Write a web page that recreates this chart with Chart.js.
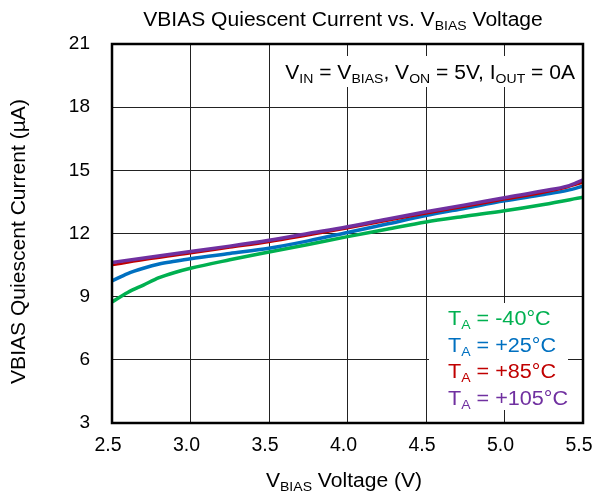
<!DOCTYPE html>
<html><head><meta charset="utf-8">
<script src="https://cdn.jsdelivr.net/npm/chart.js@4/dist/chart.umd.min.js"></script>
<style>html,body{margin:0;padding:0;background:#fff}#wrap{width:598px;height:497px}</style>
</head><body><div id="wrap"><canvas id="c" width="598" height="497"></canvas></div>
<script>
const xTicks = [2.5, 3.0, 3.5, 4.0, 4.5, 5.0, 5.5];
const yTicks = [3, 6, 9, 12, 15, 18, 21];
const seriesNames = ["-40°C", "+25°C", "+85°C", "+105°C"];

const vM40 = [2.5, 2.6, 2.7, 2.8, 2.9, 3.0, 3.25, 3.5, 3.75, 4.0, 4.25, 4.5, 4.75, 5.0, 5.25, 5.5];
const iM40 = [8.75, 9.2, 9.55, 9.9, 10.15, 10.35, 10.75, 11.12, 11.48, 11.85, 12.2, 12.55, 12.82, 13.08, 13.38, 13.72];

const v25 = [2.5, 2.6, 2.7, 2.8, 2.9, 3.0, 3.25, 3.5, 3.75, 4.0, 4.25, 4.5, 4.75, 5.0, 5.25, 5.4, 5.5];
const i25 = [9.75, 10.1, 10.35, 10.55, 10.68, 10.8, 11.05, 11.3, 11.65, 12.05, 12.45, 12.85, 13.2, 13.55, 13.85, 14.05, 14.25];

const v85 = [2.5, 2.75, 3.0, 3.25, 3.5, 3.75, 4.0, 4.25, 4.5, 4.75, 5.0, 5.25, 5.4, 5.5];
const i85 = [10.5, 10.8, 11.06, 11.33, 11.6, 11.92, 12.25, 12.6, 12.95, 13.28, 13.62, 13.95, 14.2, 14.42];

const v105 = [2.5, 2.75, 3.0, 3.25, 3.5, 3.75, 4.0, 4.25, 4.5, 4.75, 5.0, 5.25, 5.4, 5.5];
const i105 = [10.62, 10.88, 11.14, 11.4, 11.68, 12.0, 12.32, 12.68, 13.03, 13.36, 13.7, 14.03, 14.25, 14.55];

const colors = ["#00B050", "#0070C0", "#C00000", "#7030A0"];
const widths = [3.5, 3.5, 2.5, 3.5];

function pts(xs, ys) { return xs.map((x, i) => ({x: x, y: ys[i]})); }
const allX = [vM40, v25, v85, v105];
const allY = [iM40, i25, i85, i105];

const FONT = '"Liberation Sans", Arial, sans-serif';
const SX = 1.08;

function rich(ctx, x, y, segs, size, color, align) {
  const subSize = Math.round(size * 0.66);
  let w = 0;
  segs.forEach(s => { ctx.font = (s.sub ? subSize : size) + 'px ' + FONT; w += ctx.measureText(s.t).width; });
  w *= SX;
  let sx0 = align === 'center' ? x - w / 2 : (align === 'right' ? x - w : x);
  ctx.save();
  ctx.translate(sx0, y);
  ctx.scale(SX, 1);
  ctx.textBaseline = 'alphabetic';
  ctx.textAlign = 'left';
  ctx.fillStyle = color;
  let cx = 0;
  segs.forEach(s => {
    ctx.font = (s.sub ? subSize : size) + 'px ' + FONT;
    ctx.fillText(s.t, cx, s.sub ? size * 0.2 : 0);
    cx += ctx.measureText(s.t).width;
  });
  ctx.restore();
}

const textPlugin = {
  id: 'texts',
  afterDraw(chart) {
    const ctx = chart.ctx;
    ctx.save();
    rich(ctx, 343, 26, [{t: 'VBIAS Quiescent Current vs. V'}, {t: 'BIAS', sub: true}, {t: ' Voltage'}], 19.5, '#000', 'center');
    rich(ctx, 344, 487, [{t: 'V'}, {t: 'BIAS', sub: true}, {t: ' Voltage (V)'}], 19.5, '#000', 'center');
    ctx.save();
    ctx.translate(25, 241.5);
    ctx.rotate(-Math.PI / 2);
    rich(ctx, 0, 0, [{t: 'VBIAS Quiescent Current (µA)'}], 19.5, '#000', 'center');
    ctx.restore();
    rich(ctx, 575, 79, [{t: 'V'}, {t: 'IN', sub: true}, {t: ' = V'}, {t: 'BIAS', sub: true}, {t: ', V'}, {t: 'ON', sub: true}, {t: ' = 5V, I'}, {t: 'OUT', sub: true}, {t: ' = 0A'}], 19.5, '#000', 'right');
    seriesNames.forEach((n, i) => {
      rich(ctx, 448, 325 + i * 26.5, [{t: 'T'}, {t: 'A', sub: true}, {t: ' = ' + n}], 20, colors[i], 'left');
    });
    ctx.restore();
  },
  beforeDatasetsDraw(chart) {
    const ctx = chart.ctx;
    ctx.save();
    ctx.fillStyle = '#fff';
    ctx.fillRect(429, 303, 139, 107);
    ctx.fillRect(280, 56, 295, 31);
    ctx.restore();
  }
};

const borderPlugin = {
  id: 'frame',
  afterDatasetsDraw(chart) {
    const a = chart.chartArea, ctx = chart.ctx;
    ctx.save();
    ctx.strokeStyle = '#000';
    ctx.lineWidth = 2.5;
    ctx.strokeRect(a.left, a.top, a.right - a.left, a.bottom - a.top);
    ctx.restore();
  }
};

new Chart(document.getElementById('c'), {
  type: 'line',
  data: {
    datasets: allX.map((xs, i) => ({
      label: seriesNames[i],
      data: pts(xs, allY[i]),
      borderColor: colors[i],
      backgroundColor: colors[i],
      borderWidth: widths[i],
      pointRadius: 0,
      cubicInterpolationMode: 'monotone',
      fill: false,
      order: 4 - i
    }))
  },
  options: {
    responsive: false,
    animation: false,
    devicePixelRatio: 1,
    layout: {padding: {left: 0, right: 15, top: 44, bottom: 0}},
    plugins: {legend: {display: false}, tooltip: {enabled: false}, title: {display: false}},
    scales: {
      x: {
        type: 'linear', min: 2.5, max: 5.5,
        afterBuildTicks(s) { s.ticks = xTicks.map(v => ({value: v})); },
        afterFit(s) { s.height = 74; s.paddingLeft = 0; s.paddingRight = 0; },
        border: {display: false},
        grid: {color: '#222', lineWidth: 1, drawTicks: false},
        ticks: {padding: 11, labelOffset: -4, color: '#000', font: {family: FONT, size: 19.5}, maxRotation: 0,
          callback: v => Number(v).toFixed(1)}
      },
      y: {
        type: 'linear', min: 3, max: 21,
        afterBuildTicks(s) { s.ticks = yTicks.map(v => ({value: v})); },
        afterFit(s) { s.width = 112; s.paddingTop = 0; s.paddingBottom = 0; },
        border: {display: false},
        grid: {color: '#222', lineWidth: 1, drawTicks: false},
        ticks: {padding: 22, color: '#000', font: {family: FONT, size: 19}}
      }
    }
  },
  plugins: [textPlugin, borderPlugin]
});
</script></body></html>
